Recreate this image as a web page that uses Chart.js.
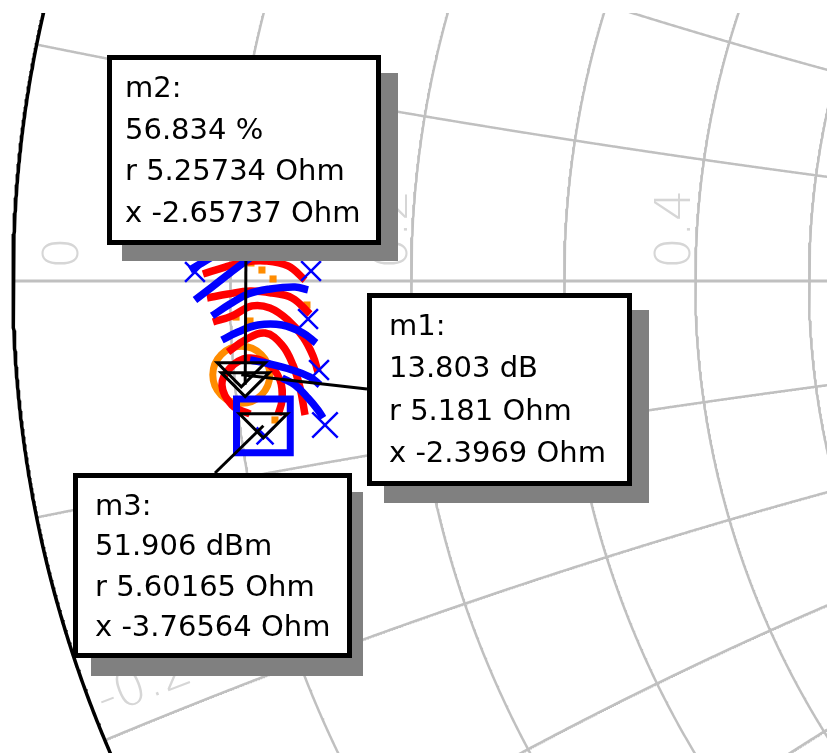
<!DOCTYPE html>
<html>
<head>
<meta charset="utf-8">
<script src="https://cdn.jsdelivr.net/npm/chart.js@4.4.1/dist/chart.umd.min.js"></script>
<style>
  body { margin: 0; background: #fff; }
  canvas { display: block; }
</style>
</head>
<body>
<canvas id="smithChart" width="827" height="753"></canvas>
<script>
// zoomed window of the smith chart, in reflection coefficient units
const gammaReRange = [-1.010888, -0.318258];
const gammaImRange = [-0.395310, 0.224456];

// smith chart grid (normalized r and x)
const resistanceCircles = [0.1, 0.2, 0.3, 0.4, 0.5, 0.6, 0.7, 0.8, 0.9, 1.0];
const reactanceCircles = [0.1, 0.2, 0.3, 0.4, 0.5, 1.0, -0.1, -0.2, -0.3, -0.4, -0.5, -1.0];

// grid labels
const rLabels = ["0", "0.2", "0.4"];
const rLabelRe = [-0.9456, -0.6700, -0.4330];
const xLabels = ["-0.2"];
const xLabelPos = [[-0.9238, -0.3643]];

// markers (ohm, z0 = 50)
const z0 = 50;
const markerNames = ["m1", "m2", "m3"];
const markerValue = ["13.803 dB", "56.834 %", "51.906 dBm"];
const markerR = [5.181, 5.25734, 5.60165];
const markerX = [-2.3969, -2.65737, -3.76564];

// load pull contours, [re, im] of gamma
const redContours = [
  [[-0.8409, 0.0059], [-0.8224, 0.0117], [-0.8057, 0.0159], [-0.7889, 0.0168], [-0.7697, 0.0126], [-0.7554, 0.0008]],
  [[-0.8375, -0.0142], [-0.8199, -0.0109], [-0.8015, -0.0084], [-0.7831, -0.0101], [-0.7663, -0.0142], [-0.7513, -0.0276]],
  [[-0.8325, -0.0343], [-0.8166, -0.0293], [-0.7998, -0.0209], [-0.7848, -0.0226], [-0.7697, -0.0327], [-0.7571, -0.0469], [-0.7487, -0.0628], [-0.7446, -0.0762]],
  [[-0.8199, -0.0595], [-0.8057, -0.0494], [-0.7889, -0.0436], [-0.7747, -0.0536], [-0.7655, -0.0704], [-0.7596, -0.0896], [-0.7554, -0.1122]],
  [[-0.8015, -0.1114], [-0.8166, -0.1039], [-0.8250, -0.0871], [-0.8183, -0.0729], [-0.8032, -0.0645], [-0.7864, -0.0695], [-0.7764, -0.0829], [-0.7747, -0.0997], [-0.7781, -0.1122]]
];
const blueContours = [
  [[-0.8518, 0.0092], [-0.8434, 0.0142], [-0.8333, 0.0201], [-0.8224, 0.0260]],
  [[-0.8476, -0.0159], [-0.8333, -0.0050], [-0.8183, 0.0067], [-0.8015, 0.0193], [-0.7915, 0.0260]],
  [[-0.8333, -0.0293], [-0.8183, -0.0193], [-0.8032, -0.0109], [-0.7848, -0.0067], [-0.7638, -0.0050], [-0.7529, -0.0075]],
  [[-0.8250, -0.0494], [-0.8116, -0.0427], [-0.7948, -0.0369], [-0.7747, -0.0369], [-0.7571, -0.0436], [-0.7462, -0.0519]],
  [[-0.8015, -0.0662], [-0.7848, -0.0695], [-0.7663, -0.0745], [-0.7513, -0.0804], [-0.7429, -0.0871]],
  [[-0.7747, -0.0812], [-0.7638, -0.0871], [-0.7529, -0.0980], [-0.7446, -0.1080], [-0.7404, -0.1147]]
];
const crossPoints = [[-0.8476, 0.0075], [-0.7504, 0.0084], [-0.7529, -0.0318], [-0.7437, -0.0745], [-0.7387, -0.1206], [-0.7889, -0.1298]];
const crossSizes = [14, 14, 14, 14, 18, 12];
const orangeBits = [[-0.8007, 0.0151], [-0.7915, 0.0092], [-0.7822, 0.0017], [-0.8132, -0.0302], [-0.8015, -0.0335], [-0.7538, -0.0201], [-0.7806, -0.1164]];

// marker box layout (px): box, shadow, where the leader meets the box, text start
const boxLayout = {
  m1: { box: [367, 293, 632, 486], shadow: [384, 310, 649, 503], anchor: [367, 389], text: [389, 335], step: 42.3 },
  m2: { box: [107, 55, 381, 245], shadow: [122, 73, 398, 261], anchor: [246, 245], text: [125, 97], step: 41.7 },
  m3: { box: [73, 473, 352, 658], shadow: [91, 492, 363, 676], anchor: [215, 473], text: [95, 515], step: 40.3 }
};

function toGamma(r, x) {
  const den = (r + 1) * (r + 1) + x * x;
  return { x: (r * r + x * x - 1) / den, y: (2 * x) / den };
}

function lineSet(data, color, width, order, tension) {
  return {
    data: data, showLine: true, borderColor: color, borderWidth: width,
    pointRadius: 0, pointHoverRadius: 0, tension: tension || 0, order: order, fill: false
  };
}

const datasets = [];

// resistance circles + outer boundary
[0].concat(resistanceCircles).forEach(function (r) {
  const pts = [];
  const c = r / (1 + r), rad = 1 / (1 + r);
  for (let i = 0; i <= 2880; i++) {
    const a = (i / 2880) * 2 * Math.PI;
    pts.push({ x: c + rad * Math.cos(a), y: rad * Math.sin(a) });
  }
  if (r === 0) datasets.push(lineSet(pts, "#000000", 3.5, 90));
  else datasets.push(lineSet(pts, "#c0c0c0", 2.5, 100));
});

// reactance arcs
reactanceCircles.forEach(function (xv) {
  const pts = [];
  for (let i = 0; i < 3000; i++) {
    const t = i / 3000;
    pts.push(toGamma(t / (1 - t), xv));
  }
  pts.push({ x: 1, y: 0 });
  datasets.push(lineSet(pts, "#c0c0c0", 2.5, 100));
});

// real axis
datasets.push(lineSet([{ x: -1, y: 0 }, { x: 1, y: 0 }], "#c0c0c0", 3, 100));

// contours
redContours.forEach(function (c) {
  datasets.push(lineSet(c.map(p => ({ x: p[0], y: p[1] })), "#ff0000", 7.5, 50, 0.4));
});
blueContours.forEach(function (c) {
  datasets.push(lineSet(c.map(p => ({ x: p[0], y: p[1] })), "#0000ff", 7.5, 40, 0.4));
});

datasets.push({
  data: orangeBits.map(p => ({ x: p[0], y: p[1] })),
  pointStyle: "rect", pointRadius: 5, backgroundColor: "#ff8c00", borderWidth: 0, order: 55
});

datasets.push({
  data: crossPoints.map(p => ({ x: p[0], y: p[1] })),
  pointStyle: "crossRot", pointRadius: crossSizes, borderColor: "#0000ff", borderWidth: 2.5, order: 30
});

const markerGamma = markerR.map((r, i) => toGamma(r / z0, markerX[i] / z0));

// optimum symbols: orange circle at m1, blue square at m3
datasets.push({
  data: [markerGamma[0]], pointStyle: "circle", pointRadius: 28.5,
  borderColor: "#ff8c00", borderWidth: 7, backgroundColor: "rgba(0,0,0,0)", order: 60
});
datasets.push({
  data: [markerGamma[2]], pointStyle: "rect", pointRadius: 38,
  borderColor: "#0000ff", borderWidth: 7, backgroundColor: "rgba(0,0,0,0)", order: 20
});

const gridText = {
  id: "gridText",
  beforeDatasetsDraw(chart) {
    const ctx = chart.ctx, xs = chart.scales.x, ys = chart.scales.y;
    ctx.save();
    ctx.fillStyle = "#d6d6d6";
    ctx.font = "200 50px 'DejaVu Sans'";
    ctx.textAlign = "left";
    ctx.textBaseline = "alphabetic";
    rLabels.forEach(function (t, i) {
      ctx.save();
      ctx.translate(xs.getPixelForValue(rLabelRe[i]), ys.getPixelForValue(0.0101));
      ctx.rotate(-Math.PI / 2);
      ctx.fillText(t, 0, 0);
      ctx.restore();
    });
    xLabels.forEach(function (t, i) {
      ctx.save();
      ctx.translate(xs.getPixelForValue(xLabelPos[i][0]), ys.getPixelForValue(xLabelPos[i][1]));
      ctx.rotate(-21 * Math.PI / 180);
      ctx.fillText(t, 0, 0);
      ctx.restore();
    });
    ctx.restore();
  }
};

const markerBoxes = {
  id: "markerBoxes",
  afterDatasetsDraw(chart) {
    const ctx = chart.ctx, xs = chart.scales.x, ys = chart.scales.y;
    ctx.save();
    const pix = markerGamma.map(g => [xs.getPixelForValue(g.x), ys.getPixelForValue(g.y)]);

    // triangles
    ctx.strokeStyle = "#000";
    ctx.lineWidth = 3;
    pix.forEach(function (p) {
      ctx.beginPath();
      ctx.moveTo(p[0] - 24, p[1] - 12);
      ctx.lineTo(p[0] + 24, p[1] - 12);
      ctx.lineTo(p[0], p[1] + 12);
      ctx.closePath();
      ctx.stroke();
    });

    // leaders
    markerNames.forEach(function (name, i) {
      const a = boxLayout[name].anchor;
      ctx.beginPath();
      ctx.moveTo(pix[i][0], pix[i][1]);
      ctx.lineTo(a[0], a[1]);
      ctx.stroke();
    });

    // boxes
    markerNames.forEach(function (name, i) {
      const L = boxLayout[name];
      const s = L.shadow, b = L.box;
      ctx.fillStyle = "#808080";
      ctx.fillRect(s[0], s[1], s[2] - s[0], s[3] - s[1]);
      ctx.fillStyle = "#ffffff";
      ctx.fillRect(b[0], b[1], b[2] - b[0], b[3] - b[1]);
      ctx.strokeStyle = "#000";
      ctx.lineWidth = 5;
      ctx.strokeRect(b[0] + 2.5, b[1] + 2.5, b[2] - b[0] - 5, b[3] - b[1] - 5);

      const lines = [name + ":", markerValue[i], "r " + markerR[i] + " Ohm", "x " + markerX[i] + " Ohm"];
      ctx.fillStyle = "#000";
      ctx.font = "29px 'DejaVu Sans'";
      ctx.textAlign = "left";
      ctx.textBaseline = "alphabetic";
      lines.forEach(function (t, k) {
        ctx.fillText(t, L.text[0], L.text[1] + k * L.step);
      });
    });
    ctx.restore();
  }
};

new Chart(document.getElementById("smithChart").getContext("2d"), {
  type: "scatter",
  data: { datasets: datasets },
  options: {
    responsive: false,
    animation: false,
    devicePixelRatio: 1,
    events: [],
    layout: { padding: { top: 13, left: 0, right: 0, bottom: 0 }, autoPadding: false },
    plugins: { legend: { display: false }, tooltip: { enabled: false } },
    scales: {
      x: { type: "linear", min: gammaReRange[0], max: gammaReRange[1], display: false },
      y: { type: "linear", min: gammaImRange[0], max: gammaImRange[1], display: false }
    }
  },
  plugins: [gridText, markerBoxes]
});
</script>
</body>
</html>
